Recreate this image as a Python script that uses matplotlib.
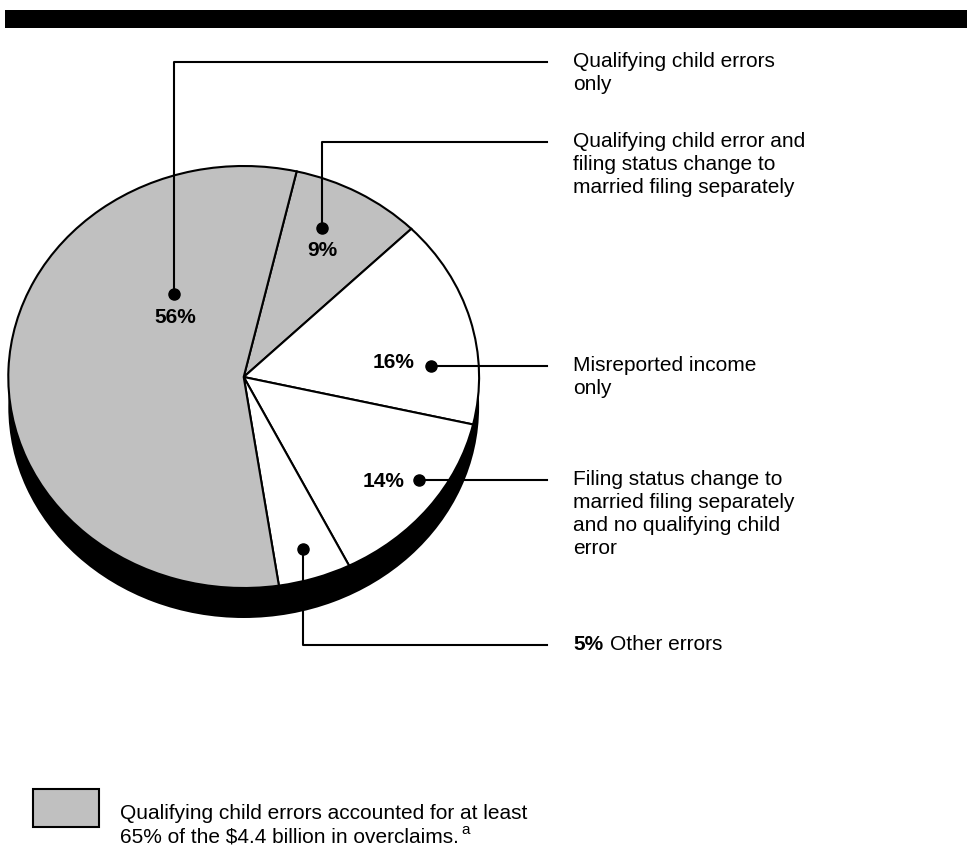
import matplotlib
matplotlib.use("Agg")
import matplotlib.pyplot as plt
from matplotlib.patches import Rectangle

plt.rcParams['font.family'] = ['Liberation Sans', 'DejaVu Sans']

# slice data, clockwise from the top
shares = [9, 16, 14, 5, 56]
pct_labels = ['9%', '16%', '14%', '5%', '56%']
qualifying = [True, False, False, False, True]
categories = [
    ["Qualifying child error and", "filing status change to", "married filing separately"],
    ["Misreported income", "only"],
    ["Filing status change to", "married filing separately", "and no qualifying child", "error"],
    ["Other errors"],
    ["Qualifying child errors", "only"],
]
note_lines = ["Qualifying child errors accounted for at least",
              "65% of the $4.4 billion in overclaims."]

GRAY = '#c0c0c0'
W, H = 967, 856

fig = plt.figure(figsize=(W / 100, H / 100), dpi=100)

# pie sits in its own axes, stretched into an ellipse
cx, cy, rx, ry = 243.7, 377, 235.4, 211
pax = fig.add_axes([(cx - rx) / W, (H - cy - ry) / H, 2 * rx / W, 2 * ry / H])
shadow, _ = pax.pie([1], colors=['black'], center=(0, -30 / ry), radius=1,
                    wedgeprops=dict(linewidth=0))
wedges, _ = pax.pie(shares, colors=[GRAY if q else 'white' for q in qualifying],
                    startangle=77, counterclock=False, radius=1,
                    wedgeprops=dict(edgecolor='black', linewidth=1.5))
for w in shadow + wedges:
    w.set_clip_on(False)
pax.set_aspect('auto')
pax.set_xlim(-1, 1)
pax.set_ylim(-1, 1)
pax.axis('off')

# overlay in pixel coordinates for labels and leaders
ax = fig.add_axes([0, 0, 1, 1])
ax.set_xlim(0, W)
ax.set_ylim(H, 0)
ax.axis('off')
ax.patch.set_alpha(0)

ax.add_patch(Rectangle((5, 10), W - 5, 18, facecolor='black', edgecolor='none'))

FS = 15
line_end = 547
text_x = 573
step = 23

# (dot x, dot y, leader y, label x, label baseline, label ha)
leaders = [
    (322, 228, 142, 322, 256, 'center'),
    (431, 366, 366, 414, 368, 'right'),
    (419, 480, 480, 405, 487, 'right'),
    (303, 549, 645, None, None, None),
    (174, 294, 62, 175, 323, 'center'),
]

for i, (dx, dy, ly, tx, ty, ha) in enumerate(leaders):
    if dy == ly:
        ax.plot([dx, line_end], [ly, ly], color='black', lw=1.5)
    else:
        ax.plot([dx, dx, line_end], [dy, ly, ly], color='black', lw=1.5)
    ax.plot(dx, dy, 'o', color='black', markersize=8)
    if tx is not None:
        ax.text(tx, ty, pct_labels[i], ha=ha, va='baseline', fontsize=15,
                fontweight='bold')
    lines = categories[i]
    if tx is None:
        ax.text(text_x, ly + 5, pct_labels[i], ha='left', va='baseline',
                fontsize=FS, fontweight='bold')
        ax.text(text_x + 37, ly + 5, lines[0], ha='left', va='baseline', fontsize=FS)
    else:
        for k, s in enumerate(lines):
            ax.text(text_x, ly + 5 + k * step, s, ha='left', va='baseline', fontsize=FS)

# shaded-area note
ax.add_patch(Rectangle((33, 789), 66, 38, facecolor=GRAY, edgecolor='black', lw=1.5))
for k, s in enumerate(note_lines):
    ax.text(120, 819 + k * 24, s, ha='left', va='baseline', fontsize=FS)
ax.text(461, 834, 'a', ha='left', va='baseline', fontsize=11)

fig.savefig('out.png', dpi=100)
